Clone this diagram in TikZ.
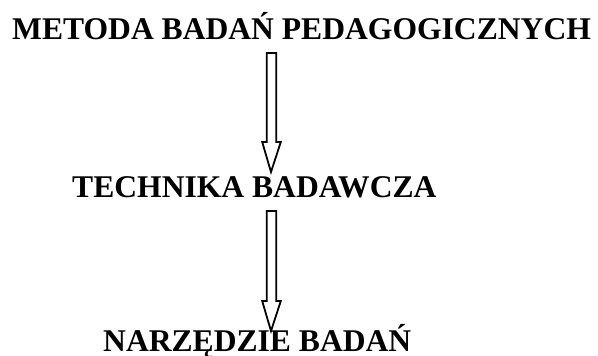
\documentclass[tikz,border=0pt]{standalone}
\usepackage{fontspec}
\setmainfont{Liberation Serif}
\usetikzlibrary{calc}

\tikzset{
  title/.style={inner sep=0pt, anchor=base west, font=\fontsize{31.6}{36}\selectfont\bfseries},
  blockarrow/.style={draw=black, line width=1.8pt, fill=white, line join=miter}
}

% hollow block arrow from #1 (top of shaft) to #2 (tip)
\newcommand{\hollowarrow}[2]{%
  \draw[blockarrow] let \p1=(#1), \p2=(#2) in
    (\x1-4.8pt,\y1) -- (\x1+4.8pt,\y1) -- (\x1+4.8pt,\y2+30pt) -- (\x1+9.3pt,\y2+30pt)
    -- (\x2,\y2) -- (\x1-9.3pt,\y2+30pt) -- (\x1-4.8pt,\y2+30pt) -- cycle;}

\begin{document}
\begin{tikzpicture}[x=1pt,y=1pt]
  \useasboundingbox (0,0) rectangle (598,356);

  \node[title] (metoda)    at (12,316)  {METODA BADAŃ PEDAGOGICZNYCH};
  \node[title] (technika)  at (72,158)  {TECHNIKA BADAWCZA};
  \node[title] (narzedzie) at (103,4)   {NARZĘDZIE BADAŃ};

  \coordinate (top1) at (271.5,303);
  \coordinate (tip1) at (271,184);
  \coordinate (top2) at (271.5,145);
  \coordinate (tip2) at (271,25);

  \hollowarrow{top1}{tip1}
  \hollowarrow{top2}{tip2}
\end{tikzpicture}
\end{document}
